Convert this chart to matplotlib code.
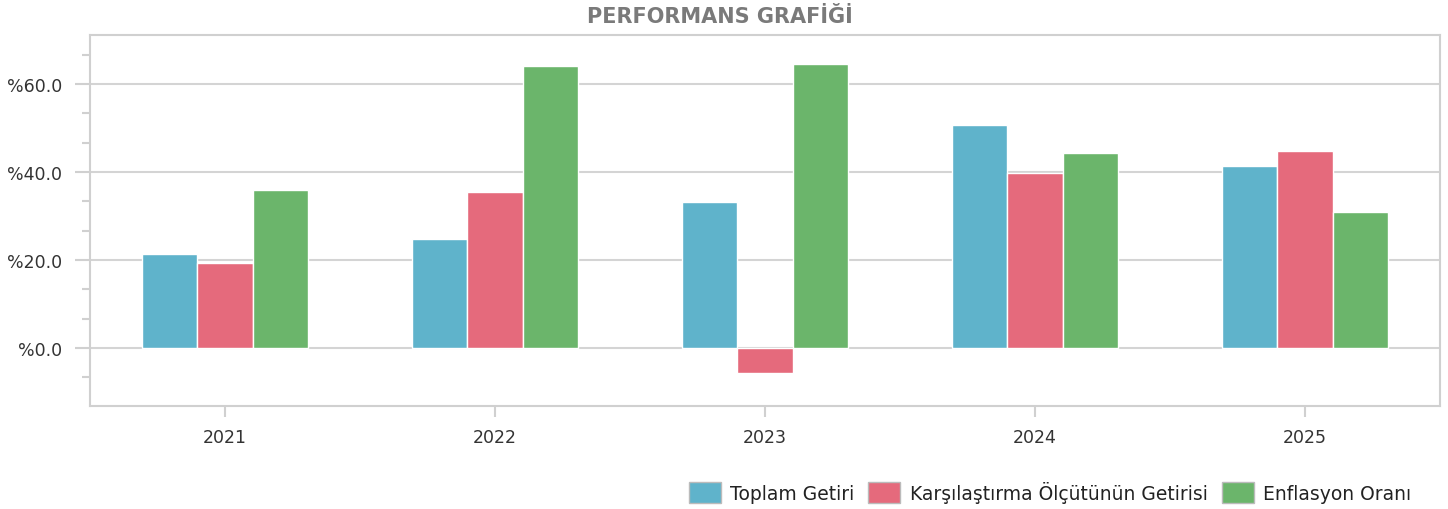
import matplotlib
matplotlib.use("Agg")
import matplotlib.pyplot as plt
import numpy as np
from matplotlib.ticker import MultipleLocator, AutoMinorLocator, FuncFormatter

years = ["2021", "2022", "2023", "2024", "2025"]
series_names = ["Toplam Getiri", "Karşılaştırma Ölçütünün Getirisi", "Enflasyon Oranı"]
toplam_getiri = [21.4, 24.8, 33.2, 50.7, 41.4]
karsilastirma = [19.3, 35.5, -5.7, 39.8, 44.8]
enflasyon = [35.9, 64.1, 64.5, 44.3, 30.9]
colors = ["#5fb3cb", "#e56a7c", "#6bb56b"]

plt.rcParams["font.family"] = ["DejaVu Sans"]

fig = plt.figure(figsize=(14.48, 5.10), dpi=100)
ax = fig.add_axes([90 / 1448, 1 - 406.7 / 510, 1350 / 1448, 370.7 / 510])

x = np.arange(len(years))
w = 0.205
for i, vals in enumerate([toplam_getiri, karsilastirma, enflasyon]):
    ax.bar(x + (i - 1) * w, vals, width=w, color=colors[i], edgecolor="white",
           linewidth=1.0, label=series_names[i], zorder=3)

ax.set_xlim(-0.5, len(years) - 0.5)
ax.set_ylim(-13.1, 71.1)
ax.set_xticks(x)
ax.set_xticklabels(years)
ax.yaxis.set_major_locator(MultipleLocator(20))
ax.yaxis.set_minor_locator(AutoMinorLocator(3))
ax.yaxis.set_major_formatter(FuncFormatter(lambda v, p: f"%{v:.1f}"))
ax.grid(axis="y", which="major", color="#d4d4d4", linewidth=1.5, zorder=0)

for s in ax.spines.values():
    s.set_color("#d0d0d0")
    s.set_linewidth(1.5)

ax.tick_params(axis="y", which="major", length=11, width=1.5, color="#d0d0d0",
               labelsize=12.5, labelcolor="#333333", pad=9)
ax.tick_params(axis="y", which="minor", length=6, width=1.5, color="#d0d0d0")
ax.tick_params(axis="x", length=8, width=1.5, color="#d0d0d0", labelsize=12.5,
               labelcolor="#333333", pad=8)

fig.text(719.5 / 1448, 1 - 17 / 510, "PERFORMANS GRAFİĞİ", ha="center", va="center",
         fontsize=15, fontweight="bold", color="#7a7a7a")

handles, labels = ax.get_legend_handles_labels()
leg = fig.legend(handles, labels, loc="center right", bbox_to_anchor=(1411 / 1448, 1 - 493 / 510),
                 ncol=3, frameon=False, fontsize=13.5, handlelength=1.7, handleheight=1.33,
                 handletextpad=0.5, columnspacing=0.75, labelcolor="#222222",
                 borderpad=0, borderaxespad=0)
for p in leg.get_patches():
    p.set_edgecolor("#bbbbbb")

fig.savefig("out.png", dpi=100)
